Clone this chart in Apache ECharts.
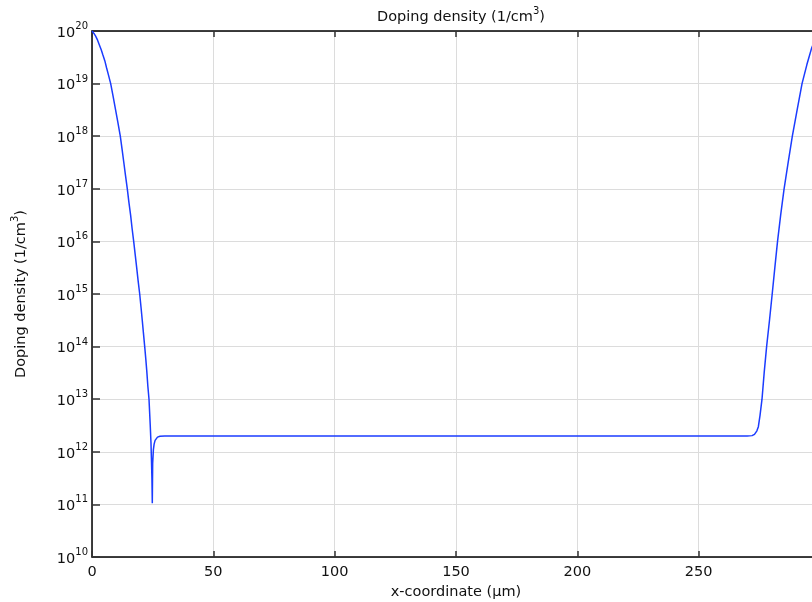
<!DOCTYPE html>
<html><head><meta charset="utf-8">
<script src="https://cdn.jsdelivr.net/npm/echarts@6/dist/echarts.min.js"></script>
<style>html,body{margin:0;padding:0;background:#fff}#c{width:812px;height:602px}</style>
</head><body><div id="c"></div>
<script>
// x-coordinate (µm)
var xCoord = [0, 0.8, 1.5, 2.3, 3, 3.8, 4.5, 5.3, 6, 6.8, 7.7, 8.7, 9.7, 10.7, 11.66, 12.4, 13.1, 13.8, 14.55, 15.2, 15.9, 16.5, 17.18, 17.8, 18.4, 19.0, 19.66, 20.2, 20.7, 21.2, 21.72, 22.2, 22.6, 23.0, 23.49, 24.0, 24.3, 24.5, 24.7, 24.85, 25.0, 25.3, 25.6, 26, 26.5, 27, 28, 30,
  100, 200, 270, 272, 273, 274, 274.6, 275.3, 276.1, 277, 278, 279.2, 280.3, 281.4, 282.5, 283.8, 285.2, 286.9, 288.6, 290.6, 292.6, 294.6, 296.6, 298.3, 300];
// Doping density (1/cm^3)
var density = [1e20, 9e19, 8e19, 6.7e19, 5.5e19, 4.4e19, 3.5e19, 2.7e19, 2e19, 1.45e19, 1e19, 5.7e18, 3.2e18, 1.8e18, 1e18, 5.6e17, 3.2e17, 1.8e17, 1e17, 5.6e16, 3.2e16, 1.8e16, 1e16, 5.6e15, 3.2e15, 1.8e15, 1e15, 5.6e14, 3.2e14, 1.8e14, 1e14, 5.6e13, 3.3e13, 1.8e13, 1e13, 3.2e12, 1.5e12, 7e11, 3e11, 1.05e11, 6e11, 1.1e12, 1.4e12, 1.65e12, 1.8e12, 1.9e12, 1.97e12, 2e12,
  2e12, 2e12, 2e12, 2.03e12, 2.15e12, 2.5e12, 3e12, 5e12, 1e13, 3.2e13, 1e14, 3.2e14, 1e15, 3.2e15, 1e16, 3.2e16, 1e17, 3.2e17, 1e18, 3.2e18, 1e19, 2.3e19, 4.8e19, 7.5e19, 1e20];
var xTicks = [0, 50, 100, 150, 200, 250, 300];
var yExponents = [10, 11, 12, 13, 14, 15, 16, 17, 18, 19, 20];

var pairs = xCoord.map(function (x, i) { return [x, density[i]]; });
var FONT = 'DejaVu Sans';
var sup = {
  b: {fontFamily: FONT, fontSize: 14.5, fontWeight: 'normal', color: '#111', lineHeight: 19, verticalAlign: 'bottom'},
  s: {fontFamily: FONT, fontSize: 10, fontWeight: 'normal', color: '#111', lineHeight: 19, verticalAlign: 'top', padding: [0, 0, 7, 0]}
};
var chart = echarts.init(document.getElementById('c'), null, {renderer: 'canvas'});
chart.setOption({
  animation: false,
  backgroundColor: '#fff',
  title: {
    text: '{b|Doping density (1/cm}{s|3}{b|)}',
    left: 456, top: 1, textAlign: 'center',
    textStyle: {fontWeight: 'normal', rich: sup}
  },
  grid: {left: 92, top: 31, bottom: 45, right: -8, containLabel: false, outerBoundsMode: 'none'},
  xAxis: [{
    type: 'value', min: 0, max: 300, interval: 50,
    name: 'x-coordinate (µm)', nameLocation: 'middle', nameGap: 24,
    nameTextStyle: {fontFamily: FONT, fontSize: 14.5, color: '#111'},
    axisLine: {show: true, lineStyle: {color: '#000', width: 1.5}},
    axisTick: {show: true, inside: true, length: 6, lineStyle: {color: '#333', width: 1.5}},
    axisLabel: {fontFamily: FONT, fontSize: 14.5, color: '#111', margin: 8, showMaxLabel: false},
    splitLine: {show: true, lineStyle: {color: '#dcdcdc', width: 1}}
  }, {
    type: 'value', min: 0, max: 300, interval: 50, position: 'top',
    axisLine: {show: true, lineStyle: {color: '#000', width: 1.5}},
    axisTick: {show: true, inside: true, length: 6, lineStyle: {color: '#333', width: 1.5}},
    axisLabel: {show: false}, splitLine: {show: false}
  }],
  yAxis: {
    type: 'log', logBase: 10, min: 1e10, max: 1e20, interval: 1,
    name: '{b|Doping density (1/cm}{s|3}{b|)}', nameLocation: 'middle', nameGap: 63, nameRotate: 90,
    nameTextStyle: {rich: sup},
    axisLine: {show: true, lineStyle: {color: '#000', width: 1.5}},
    axisTick: {show: true, inside: true, length: 8, lineStyle: {color: '#333', width: 1.5}},
    axisLabel: {
      margin: 4,
      formatter: function (v) { var e = Math.round(Math.log10(v)); return '{b|10}{s|' + e + '}'; },
      rich: sup
    },
    splitLine: {show: true, lineStyle: {color: '#dcdcdc', width: 1}}
  },
  series: [{
    type: 'line', data: pairs, showSymbol: false, smooth: false,
    lineStyle: {color: '#1b3cff', width: 1.5}, clip: true
  }]
});
</script></body></html>
